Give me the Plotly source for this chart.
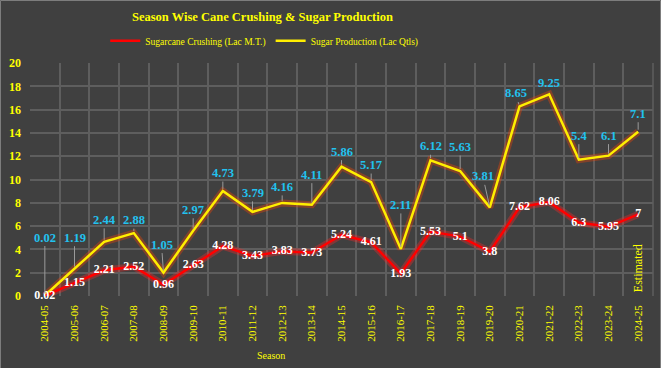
import numpy as np
import plotly.graph_objects as go

seasons = ["2004-05", "2005-06", "2006-07", "2007-08", "2008-09", "2009-10", "2010-11",
           "2011-12", "2012-13", "2013-14", "2014-15", "2015-16", "2016-17", "2017-18",
           "2018-19", "2019-20", "2020-21", "2021-22", "2022-23", "2023-24", "2024-25"]
crushing = [0.02, 1.15, 2.21, 2.52, 0.96, 2.63, 4.28, 3.43, 3.83, 3.73, 5.24, 4.61,
            1.93, 5.53, 5.1, 3.8, 7.62, 8.06, 6.3, 5.95, 7]
sugar = [0.02, 1.19, 2.44, 2.88, 1.05, 2.97, 4.73, 3.79, 4.16, 4.11, 5.86, 5.17,
         2.11, 6.12, 5.63, 3.81, 8.65, 9.25, 5.4, 6.1, 7.1]
y_ticks = [0, 2, 4, 6, 8, 10, 12, 14, 16, 18, 20]

# label leader offsets (pixels) for the sugar labels, as placed in the original
sugar_label_dy = [-58, -31, -22, -13, -28, -21, -18, -19, -16, -30, -15, -17,
                  -44, -14, -24, -31, -13, -11, -24, -20, -18]
sugar_label_dx = [0, 0, 0, 0, -2, 0, 0, 0, 0, 0, 0, 0,
                  0, 0, 0, -7, -4, 0, 0, 0, 0]

crush_arr = np.array(crushing)
sugar_stacked = crush_arr + np.array(sugar)  # stacked line, as in the original

SERIF = "Liberation Serif, Times New Roman, serif"
YELLOW = "#ffff00"
CYAN = "#22c2ef"
BG = "#404040"

fig = go.Figure()

# glow under lines
fig.add_trace(go.Scatter(x=seasons, y=sugar_stacked, mode="lines",
                         line=dict(color="rgba(255,70,0,0.35)", width=7),
                         showlegend=False, hoverinfo="skip"))
fig.add_trace(go.Scatter(x=seasons, y=crushing, mode="lines",
                         line=dict(color="rgba(255,40,40,0.35)", width=7),
                         showlegend=False, hoverinfo="skip"))

fig.add_trace(go.Scatter(x=seasons, y=sugar_stacked, mode="lines",
                         name="Sugar Production (Lac Qtls)", legendrank=2,
                         line=dict(color="#ffee00", width=2.5),
                         customdata=sugar))
fig.add_trace(go.Scatter(x=seasons, y=crushing, mode="lines+text",
                         name="Sugarcane Crushing (Lac M.T.)", legendrank=1,
                         line=dict(color="#ff0000", width=2.5), cliponaxis=False,
                         text=[str(v) for v in crushing], textposition="middle center",
                         textfont=dict(family=SERIF, size=12, color="white", weight="bold")))

annotations = []
for s, ys, v, dx, dy in zip(seasons, sugar_stacked, sugar, sugar_label_dx, sugar_label_dy):
    annotations.append(dict(x=s, y=ys, xref="x", yref="y", text=str(v),
                            showarrow=True, arrowhead=0, arrowwidth=1,
                            arrowcolor="#9a9a9a", ax=dx, ay=dy, standoff=2,
                            font=dict(family=SERIF, size=12.5, color=CYAN, weight="bold")))
annotations.append(dict(x=seasons[-1], y=0, xref="x", yref="y", text="Estimated",
                        textangle=-90, showarrow=False, yanchor="bottom", yshift=2,
                        font=dict(family=SERIF, size=12, color=YELLOW)))
annotations.append(dict(x=0.387, y=-0.255, xref="paper", yref="paper", text="Season",
                        showarrow=False, yanchor="middle",
                        font=dict(family=SERIF, size=10, color=YELLOW)))

PW, PH, ML, MB = 623.0, 233.0, 30.0, 72.0

fig.update_layout(
    width=661, height=368,
    paper_bgcolor=BG, plot_bgcolor=BG,
    margin=dict(l=30, r=8, t=63, b=72),
    title=dict(text="<b>Season Wise Cane Crushing & Sugar Production</b>",
               x=0.397, xanchor="center", y=0.955, yanchor="middle",
               font=dict(family=SERIF, size=12.5, color=YELLOW)),
    legend=dict(orientation="h", x=0.376, xanchor="center", y=1.095, yanchor="middle",
                font=dict(family=SERIF, size=9.5, color=YELLOW),
                bgcolor="rgba(0,0,0,0)", traceorder="normal", itemwidth=30),
    showlegend=True,
    annotations=annotations,
    xaxis=dict(type="category", tickson="boundaries", showgrid=True,
               gridcolor="#5e5e5e", gridwidth=1.5, tickangle=-90,
               tickfont=dict(family=SERIF, size=11, color=YELLOW),
               ticks="", showline=False, zeroline=False, range=[-0.5, 20.5],
               ticklabelstandoff=6),
    yaxis=dict(range=[0, 20], tickvals=y_ticks, showgrid=True, gridcolor="#5e5e5e",
               gridwidth=1.5, zeroline=False,
               tickfont=dict(family=SERIF, size=12, color=YELLOW, weight="bold"),
               ticklabelstandoff=8),
)
fig.add_shape(type="line", xref="paper", yref="paper", x0=1, x1=1, y0=0, y1=1,
              line=dict(color="#5e5e5e", width=1.5))
# outer chart border
fig.add_shape(type="rect", xref="paper", yref="paper",
              x0=(0.5 - ML) / PW, x1=(660.5 - ML) / PW,
              y0=(MB - 367.5) / PH, y1=(368 - MB - 0.5) / PH,
              line=dict(color="#7d7d7d", width=1), fillcolor="rgba(0,0,0,0)", layer="below")

fig.write_html("out.html", config={"displayModeBar": False},
               post_script="document.body.style.margin='0';")
